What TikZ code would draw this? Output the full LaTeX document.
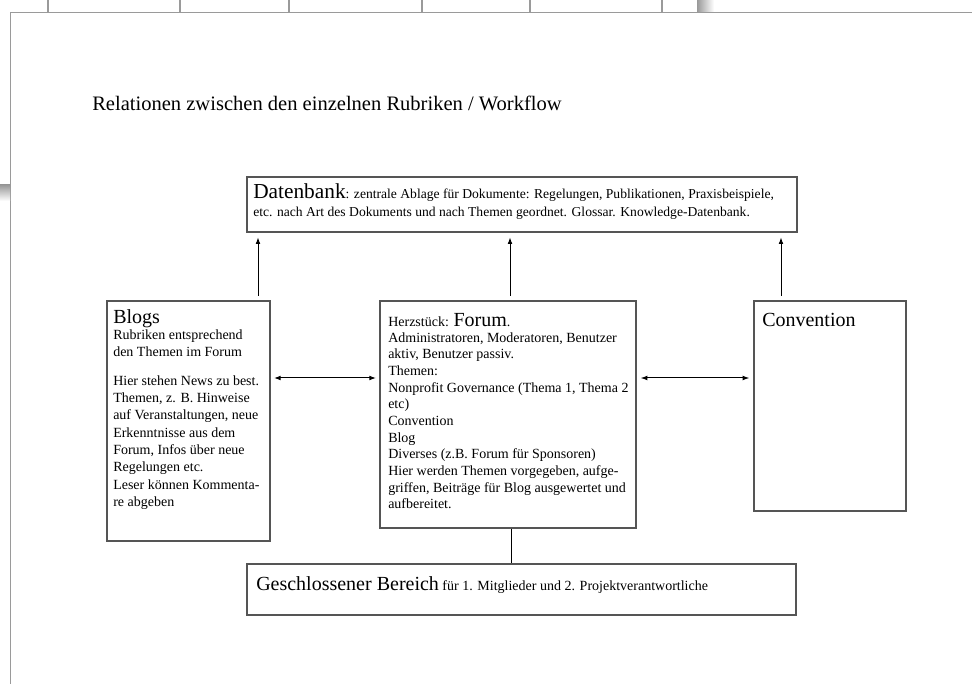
\documentclass[tikz,border=0pt]{standalone}
\usepackage{fontspec}
\setmainfont{Liberation Serif}
\usetikzlibrary{arrows.meta,fit}
\definecolor{boxgray}{HTML}{555555}
\definecolor{rulegray}{HTML}{9A9A9A}
\newcommand{\LgF}{\fontsize{15}{17}\selectfont}
\newcommand{\TtF}{\fontsize{15.4}{17}\selectfont}
\newcommand{\DbF}{\fontsize{16}{18}\selectfont}
\newcommand{\DbSmF}{\fontsize{10.2}{13.5}\selectfont}
\newcommand{\BlSmF}{\fontsize{10.5}{13}\selectfont}
\newcommand{\FoSmF}{\fontsize{10.5}{12.5}\selectfont}
\begin{document}
\begin{tikzpicture}[x=0.75pt,y=-0.75pt,
  box/.style={draw=boxgray,line width=1pt,inner sep=0pt},
  txt/.style={inner sep=0pt,anchor=base west},
  big/.style={inner sep=0pt,font=\LgF,anchor=base west},
  arr/.style={-{Latex[length=5pt,width=3.6pt]},line width=0.75pt,black},
  darr/.style={{Latex[length=5pt,width=3.6pt]}-{Latex[length=5pt,width=3.6pt]},line width=0.75pt,black},
  rule/.style={draw=rulegray,line width=0.9pt}]
\useasboundingbox (0,0) rectangle (972,684);
% screenshot frame
\draw[rule] (10,12.5) -- (972,12.5);
\draw[rule] (10.5,12.5) -- (10.5,684);
\foreach \x in {48,180,289,422,530,662} \draw[rule] (\x,0) -- (\x,12.5);
\shade[left color=gray!80,right color=white] (697,0) rectangle (714,12);
\shade[top color=gray!80,bottom color=white] (0,185) rectangle (10,201);
% title
\node[txt,font=\TtF] (title) at (92,111) {Relationen zwischen den einzelnen Rubriken / Workflow};
% boxes
\node[box,fit={(247,177) (797,232)}] (db) {};
\node[box,fit={(107,301) (270,541)}] (blogs) {};
\node[box,fit={(380,301) (636,528)}] (forum) {};
\node[box,fit={(754,301) (906,511)}] (conv) {};
\node[box,fit={(247,564) (796,615)}] (closed) {};
% texts
\node[txt,font=\DbSmF] (dbt) at (253,199) {\begin{tabular}[t]{@{}l@{}}{\DbF Datenbank}: zentrale Ablage für Dokumente: Regelungen, Publikationen, Praxisbeispiele,\\etc. nach Art des Dokuments und nach Themen geordnet. Glossar. Knowledge-Datenbank.\end{tabular}};
\node[txt,font=\BlSmF] (blt) at (113,324) {\begin{tabular}[t]{@{}l@{}}{\LgF Blogs}\\[-1.7pt]Rubriken entsprechend\\den Themen im Forum\\[8.7pt]Hier stehen News zu best.\\Themen, z. B. Hinweise\\auf Veranstaltungen, neue\\Erkenntnisse aus dem\\Forum, Infos über neue\\Regelungen etc.\\Leser können Kommenta-\\re abgeben\end{tabular}};
\node[txt,font=\FoSmF] (fot) at (388,327) {\begin{tabular}[t]{@{}l@{}}Herzstück: {\LgF Forum}.\\[-1.2pt]Administratoren, Moderatoren, Benutzer\\aktiv, Benutzer passiv.\\Themen:\\Nonprofit Governance (Thema 1, Thema 2\\etc)\\Convention\\Blog\\Diverses (z.B. Forum für Sponsoren)\\Hier werden Themen vorgegeben, aufge-\\griffen, Beiträge für Blog ausgewertet und\\aufbereitet.\end{tabular}};
\node[big] (cvt) at (762,327) {Convention};
\node[txt,font=\FoSmF] (clt) at (256,590) {{\LgF Geschlossener Bereich} für 1. Mitglieder und 2. Projektverantwortliche};
% connectors
\coordinate (u1) at (258,296);
\coordinate (u2) at (510,296);
\coordinate (u3) at (781,296);
\coordinate (h) at (0,378);
\coordinate (v) at (511,0);
\draw[arr,shorten >=3.5pt] (u1) -- (u1 |- db.south);
\draw[arr,shorten >=3.5pt] (u2) -- (u2 |- db.south);
\draw[arr,shorten >=3.5pt] (u3) -- (u3 |- db.south);
\draw[darr,shorten <=2.5pt,shorten >=2.5pt] (blogs.east |- h) -- (forum.west |- h);
\draw[darr,shorten <=3pt,shorten >=3pt] (forum.east |- h) -- (conv.west |- h);
\draw[line width=0.75pt] (v |- forum.south) -- (v |- closed.north);
\end{tikzpicture}
\end{document}
